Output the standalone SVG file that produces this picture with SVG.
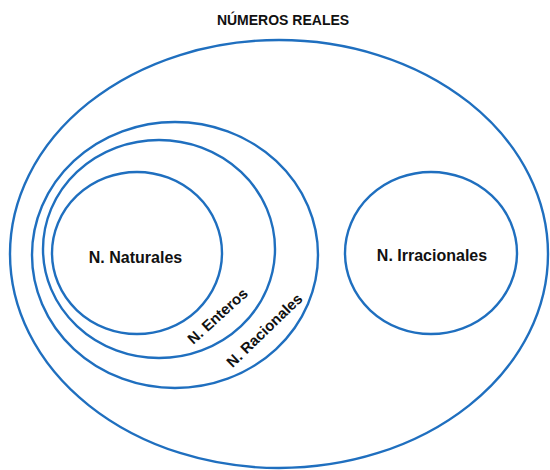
<svg xmlns="http://www.w3.org/2000/svg" width="550" height="470" viewBox="0 0 550 470">
  <style>
    .set { fill: none; stroke: #1f6fbf; stroke-width: 2.4; }
    .lbl { font-family: "Liberation Sans", Arial, sans-serif; font-weight: bold; font-size: 15px; fill: #111; text-anchor: middle; }
    .big { font-size: 16px; }
    .title { font-size: 14px; }
  </style>
  <rect width="550" height="470" fill="#fff"/>
  <g id="reales">
    <ellipse class="set" cx="279" cy="254" rx="269" ry="214"/>
    <text class="lbl title" x="283" y="25">NÚMEROS REALES</text>
  </g>
  <g id="racionales">
    <ellipse class="set" cx="175" cy="255" rx="143" ry="133"/>
    <text class="lbl" transform="translate(268,334) rotate(-44)">N. Racionales</text>
  </g>
  <g id="enteros">
    <ellipse class="set" cx="159" cy="249" rx="116" ry="109"/>
    <text class="lbl" transform="translate(221,320) rotate(-42)">N. Enteros</text>
  </g>
  <g id="naturales">
    <ellipse class="set" cx="137" cy="253" rx="85" ry="81"/>
    <text class="lbl big" x="135.5" y="263">N. Naturales</text>
  </g>
  <g id="irracionales">
    <ellipse class="set" cx="431" cy="253" rx="86" ry="81"/>
    <text class="lbl big" x="432" y="261">N. Irracionales</text>
  </g>
  <g id="connectors"/>
</svg>
